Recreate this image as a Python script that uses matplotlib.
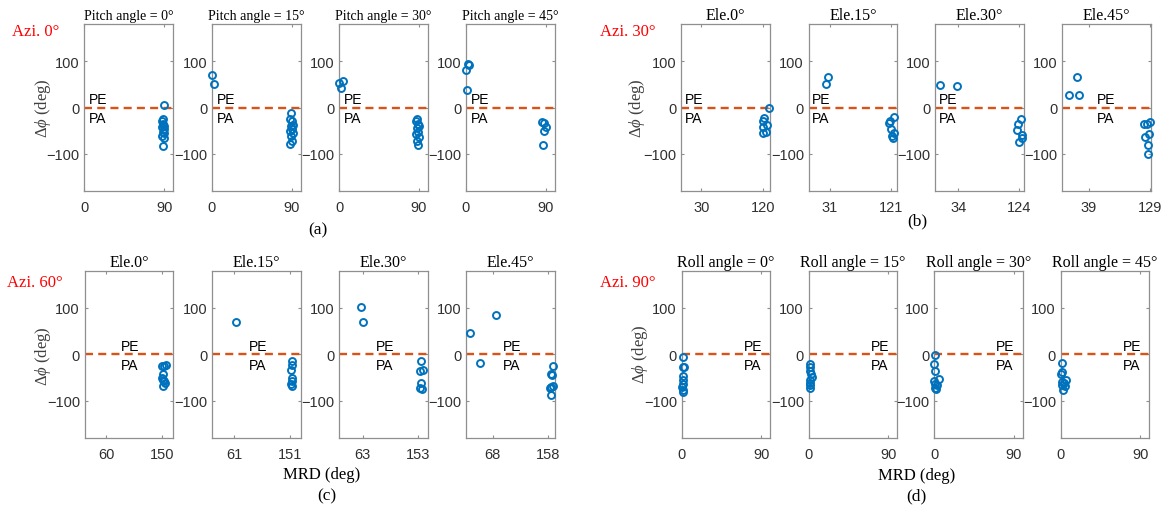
import matplotlib
matplotlib.use('Agg')
import matplotlib.pyplot as plt

# ---------------- data ----------------
a_titles = ['Pitch angle = 0°', 'Pitch angle = 15°', 'Pitch angle = 30°', 'Pitch angle = 45°']
b_titles = ['Ele.0°', 'Ele.15°', 'Ele.30°', 'Ele.45°']
c_titles = ['Ele.0°', 'Ele.15°', 'Ele.30°', 'Ele.45°']
d_titles = ['Roll angle = 0°', 'Roll angle = 15°', 'Roll angle = 30°', 'Roll angle = 45°']

azi_labels = ['Azi. 0°', 'Azi. 30°', 'Azi. 60°', 'Azi. 90°']
panel_labels = ['(a)', '(b)', '(c)', '(d)']

a_xticks = [[0, 90], [0, 90], [0, 90], [0, 90]]
b_xticks = [[30, 120], [31, 121], [34, 124], [39, 129]]
c_xticks = [[60, 150], [61, 151], [63, 153], [68, 158]]
d_xticks = [[0, 90], [0, 90], [0, 90], [0, 90]]

a_x = [
    [90, 89, 88, 89, 90, 88, 90, 89, 90, 88, 90, 89],
    [0, 2.6, 89, 88, 90, 91, 89, 90, 88, 91, 89, 90, 88],
    [0, 5, 2, 88, 87, 89, 90, 88, 89, 87, 90, 88, 89],
    [0, 2, 3, 1, 86, 88, 90, 88, 87],
]
a_y = [
    [6, -25, -30, -35, -40, -43, -47, -52, -56, -61, -65, -84],
    [70, 51, -11, -25, -30, -37, -40, -46, -50, -55, -62, -72, -79],
    [52, 58, 42, -25, -30, -35, -40, -45, -52, -57, -63, -72, -80],
    [80, 94, 91, 37, -31, -34, -42, -50, -80],
]
b_x = [
    [129, 122, 121, 126, 120, 125, 120],
    [25, 28.6, 125, 120, 118, 121, 126, 123, 124],
    [7.6, 32, 126, 122, 120, 128, 128, 124],
    [10, 22.7, 24.8, 121, 125, 129, 122, 128, 127, 127],
]
b_y = [
    [-1, -23, -29, -37, -41, -52, -56],
    [50, 65, -20, -29, -33, -47, -56, -61, -65],
    [48.6, 45.6, -25, -35, -48, -60, -66, -74],
    [27.5, 66.7, 27.5, -36, -35, -32, -63, -57, -80, -101],
]
c_x = [
    [150, 153, 157, 152, 150, 151, 153, 155, 152],
    [64, 154, 155, 153, 155, 154, 153, 155],
    [60, 64, 158, 156, 160, 158, 156, 159],
    [31, 48, 73, 165, 162, 164, 160, 163, 166, 163],
]
c_y = [
    [-25, -24, -23, -42, -50, -55, -58, -62, -68],
    [69, -15, -22, -33, -50, -57, -64, -68],
    [101, 70, -15, -35, -33, -62, -73, -75],
    [46, -19, 85, -25, -42, -44, -73, -70, -69, -88],
]
d_x = [
    [1, 1, 3, 2, 1, 1, 0, 1, 1],
    [1, 1, 2, 3, 4, 1, 2, 2, 2],
    [1, 0, 1, 5, 0, 1, 3, 1, 2],
    [2, 1, 0, 6, 1, 4, 2, 5, 3],
]
d_y = [
    [-6, -27, -28, -47, -56, -63, -70, -76, -81],
    [-20, -27, -36, -42, -49, -56, -62, -67, -72],
    [-1, -20, -35, -53, -57, -63, -67, -72, -75],
    [-19, -38, -42, -55, -60, -62, -67, -69, -76],
]

# ---------------- style ----------------
plt.rcParams['mathtext.fontset'] = 'custom'
plt.rcParams['mathtext.rm'] = 'Liberation Serif'
plt.rcParams['mathtext.it'] = 'Liberation Serif:italic'
SERIF = 'Liberation Serif'
SANS = 'Liberation Sans'
BLUE = '#0072BD'
ORANGE = '#D95319'
SPINE = '#8f8f8f'
TICKC = '#303030'

W, H = 1170, 506
fig = plt.figure(figsize=(W / 100, H / 100), dpi=100)

def fx(px):
    return px / W

def fy(py):
    return 1 - py / H

groups = [
    dict(titles=a_titles, xs=a_x, ys=a_y, xticks=a_xticks, xlim=(0, 100),
         lefts=[84.5, 212, 339, 466], top=25, bottom=192, pe_x=[5, 6, 5, 5],
         tsize=10),
    dict(titles=b_titles, xs=b_x, ys=b_y, xticks=b_xticks, xlim=(0, 130),
         lefts=[681, 808.7, 935, 1062], top=25, bottom=192, pe_x=[5, 5, 5, 51],
         tsize=11.5),
    dict(titles=c_titles, xs=c_x, ys=c_y, xticks=c_xticks, xlim=(25, 168),
         lefts=[84.7, 212, 339, 466], top=271.7, bottom=439, pe_x=[84, 84, 84, 84],
         tsize=11.5),
    dict(titles=d_titles, xs=d_x, ys=d_y, xticks=d_xticks, xlim=(0, 100),
         lefts=[681.7, 808.7, 934.3, 1060.7], top=271.7, bottom=439, pe_x=[70, 70, 70, 70],
         tsize=11.5),
]
AXW = 88.5

for g in groups:
    hpx = g['bottom'] - g['top']
    for i in range(4):
        ax = fig.add_axes([fx(g['lefts'][i]), fy(g['bottom']), AXW / W, hpx / H])
        ax.axhline(0, color=ORANGE, lw=1.7, ls=(0, (3.4, 2.2)), zorder=2)
        ax.plot(g['xs'][i], g['ys'][i], 'o', ms=5, mfc='none', mec=BLUE,
                mew=1.4, zorder=3, clip_on=False)
        ax.set_xlim(*g['xlim'])
        ax.set_ylim(-180, 180)
        ax.set_yticks([-100, 0, 100])
        ax.set_xticks(g['xticks'][i])
        for s in ax.spines.values():
            s.set_color(SPINE)
            s.set_linewidth(0.9)
        ax.tick_params(direction='in', length=2.5, width=0.8, color=SPINE,
                       top=True, right=True, labelcolor=TICKC, labelsize=10.5)
        ax.tick_params(axis='x', pad=6.5)
        ax.tick_params(axis='y', pad=3.4)
        for lab in ax.get_xticklabels() + ax.get_yticklabels():
            lab.set_fontfamily(SANS)
        ax.text(g['pe_x'][i], 19, 'PE', family=SANS, fontsize=10, va='center', ha='left')
        ax.text(g['pe_x'][i], -23, 'PA', family=SANS, fontsize=10, va='center', ha='left')
        ax.text(0.5, 1 + 5 / hpx, g['titles'][i], transform=ax.transAxes,
                ha='center', va='baseline', family=SERIF, fontsize=g['tsize'])

# y labels
ylab = r'$\Delta\phi$ (deg)'
for (px, py) in [(43.3, 108.5), (637.3, 108.5), (42.7, 356), (640, 354)]:
    fig.text(fx(px), fy(py), ylab, rotation=90, ha='center', va='center',
             fontsize=12, color='#404040', family=SERIF)

# red azimuth labels
for lab, (px, py) in zip(azi_labels, [(11.7, 32.3), (600, 32.3), (7.3, 283.3), (600, 283.3)]):
    fig.text(fx(px), fy(py), lab, color='red', ha='left', va='center',
             fontsize=12, family=SERIF)

# x labels
for (px, py) in [(322, 475), (916.7, 476)]:
    fig.text(fx(px), fy(py), 'MRD (deg)', ha='center', va='center',
             fontsize=12, family=SERIF)

# panel labels
for lab, (px, py) in zip(panel_labels, [(318.3, 230), (917, 221.7), (326.7, 496.7), (916.7, 496)]):
    fig.text(fx(px), fy(py), lab, ha='center', va='center', fontsize=12.5, family=SERIF)

fig.savefig('out.png', dpi=100)
